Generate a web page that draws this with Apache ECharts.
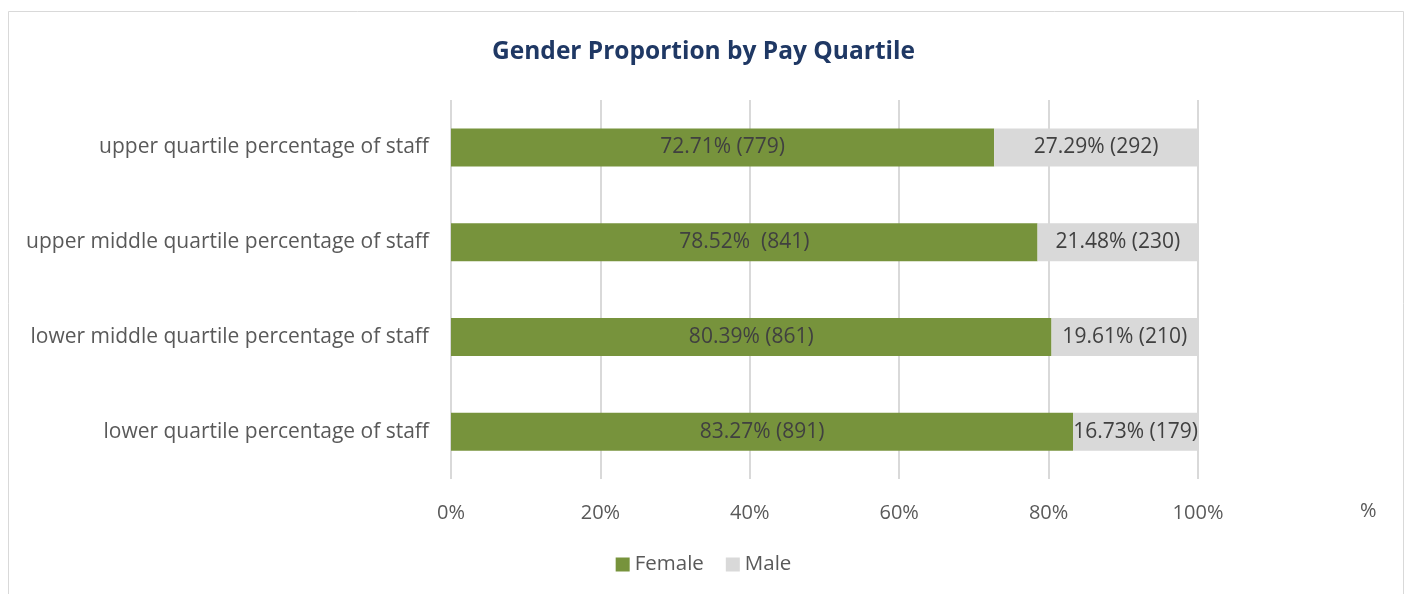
<!DOCTYPE html>
<html>
<head>
<meta charset="utf-8">
<script src="https://cdn.jsdelivr.net/npm/echarts@6/dist/echarts.min.js"></script>
<style>
html, body { margin: 0; padding: 0; background: #fff; }
#chart { width: 1407px; height: 594px; }
</style>
</head>
<body>
<div id="chart"></div>
<script>
var categories = [
    'lower quartile percentage of staff',
    'lower middle quartile percentage of staff',
    'upper middle quartile percentage of staff',
    'upper quartile percentage of staff'
];
var femalePct = [83.27, 80.39, 78.52, 72.71];
var femaleCount = [891, 861, 841, 779];
var malePct = [16.73, 19.61, 21.48, 27.29];
var maleCount = [179, 210, 230, 292];
var femaleLabels = ['83.27% (891)', '80.39% (861)', '78.52%  (841)', '72.71% (779)'];
var maleLabels = ['16.73% (179)', '19.61% (210)', '21.48% (230)', '27.29% (292)'];

var myChart = echarts.init(document.getElementById('chart'));
var font = '"Open Sans", "Noto Sans", sans-serif';

var option = {
    backgroundColor: '#fff',
    title: {
        text: 'Gender Proportion by Pay Quartile',
        left: 'center',
        top: 35,
        textStyle: {
            color: '#1F3864',
            fontSize: 24.5,
            fontWeight: 'bold',
            fontFamily: font
        }
    },
    legend: {
        bottom: 14,
        left: 'center',
        itemWidth: 14,
        itemHeight: 14,
        itemGap: 22,
        icon: 'rect',
        textStyle: { color: '#595959', fontSize: 20.5, fontFamily: font },
        data: ['Female', 'Male']
    },
    grid: {
        left: 451,
        right: 209,
        top: 100,
        bottom: 115
    },
    xAxis: {
        type: 'value',
        min: 0,
        max: 100,
        interval: 20,
        axisLine: { show: false },
        axisTick: { show: false },
        axisLabel: {
            color: '#595959',
            fontSize: 20,
            fontFamily: font,
            margin: 24,
            formatter: '{value}%'
        },
        splitLine: { lineStyle: { color: '#D9D9D9', width: 2 } }
    },
    yAxis: {
        type: 'category',
        data: categories,
        axisLine: { show: false },
        axisTick: { show: false },
        axisLabel: {
            color: '#595959',
            fontSize: 21,
            fontFamily: font,
            margin: 22
        }
    },
    series: [{
        name: 'Female',
        type: 'bar',
        stack: 'total',
        barWidth: 38,
        data: femalePct,
        itemStyle: { color: '#77933C' },
        label: {
            show: true,
            position: 'inside',
            color: '#404040',
            fontSize: 21,
            fontFamily: font,
            formatter: function (p) { return femaleLabels[p.dataIndex]; }
        }
    }, {
        name: 'Male',
        type: 'bar',
        stack: 'total',
        barWidth: 38,
        data: malePct,
        itemStyle: { color: '#D9D9D9' },
        label: {
            show: true,
            position: 'inside',
            color: '#404040',
            fontSize: 21,
            fontFamily: font,
            formatter: function (p) { return maleLabels[p.dataIndex]; }
        }
    }],
    graphic: [{
        type: 'rect',
        shape: { x: 8.5, y: 11.5, width: 1395, height: 600 },
        style: { fill: 'none', stroke: '#D9D9D9', lineWidth: 1 },
        silent: true
    }, {
        type: 'text',
        left: 1360,
        top: 501,
        style: { text: '%', fill: '#595959', font: '20px "Open Sans", "Noto Sans", sans-serif' }
    }]
};

myChart.setOption(option);
</script>
</body>
</html>
